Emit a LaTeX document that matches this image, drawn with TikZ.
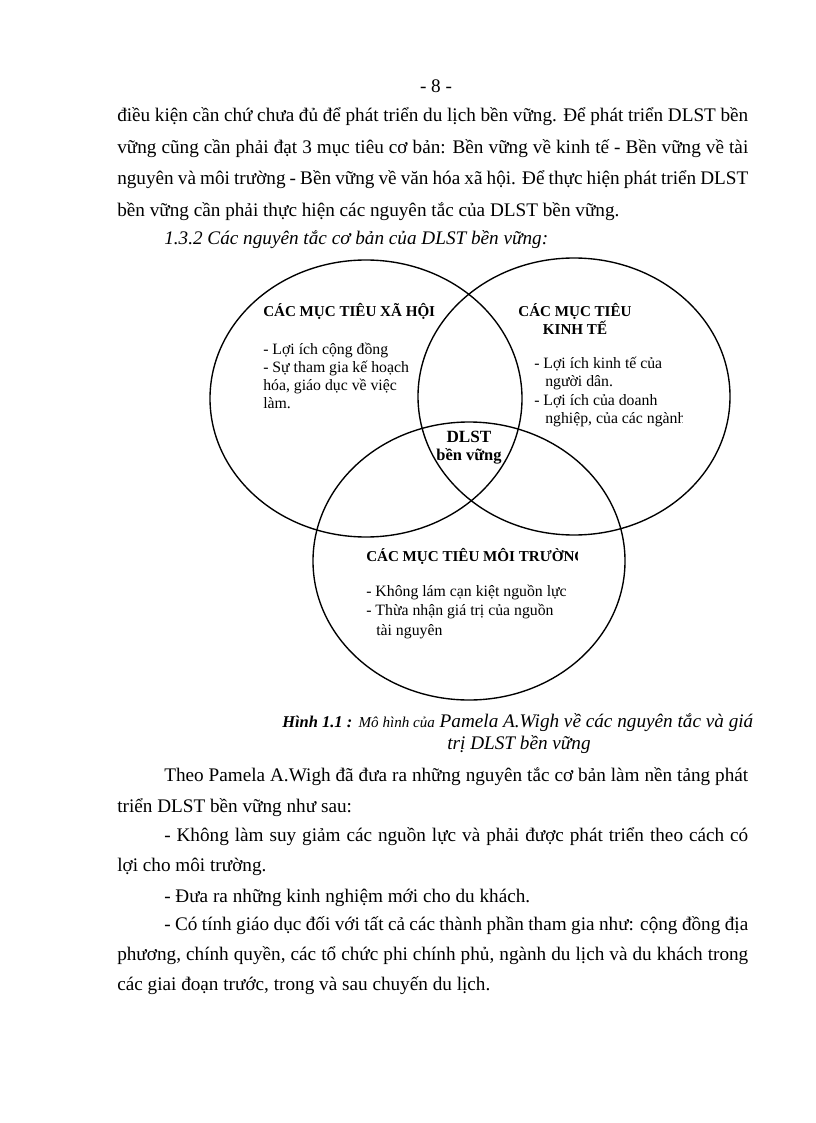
\documentclass[tikz,border=0pt]{standalone}
\usepackage{fontspec}
\setmainfont{Liberation Serif}
\usetikzlibrary{positioning}
\definecolor{Ink}{HTML}{000000}
\newcommand{\jline}[2]{\makebox[#1][s]{#2}}
\tikzset{
  venn/.style={draw=Ink,line width=1pt},
  bodyline/.style={anchor=base west,inner sep=0pt,font=\fontsize{14}{16}\selectfont},
  headcap/.style={anchor=base west,inner sep=0pt,font=\fontsize{11}{13}\selectfont\bfseries},
  circtext/.style={anchor=base west,inner sep=0pt,font=\fontsize{11.5}{13.4}\selectfont}
}
\begin{document}
\begin{tikzpicture}[x=0.729pt,y=-0.729pt]
  \useasboundingbox (0,0) rectangle (816,1123);
  % page number and opening paragraph
  \node[bodyline,anchor=base] (pnum) at (436,93) {- 8 -};
  \node[bodyline] (p1) at (117,122) {\jline{460pt}{điều kiện cần chứ chưa đủ để phát triển du lịch bền vững. Để phát triển DLST bền}};
  \node[bodyline] (p2) at (117,154) {\jline{460pt}{vững cũng cần phải đạt 3 mục tiêu cơ bản: Bền vững về kinh tế - Bền vững về tài}};
  \node[bodyline] (p3) at (117,185) {\jline{460pt}{nguyên và môi trường - Bền vững về văn hóa xã hội. Để thực hiện phát triển DLST}};
  \node[bodyline] (p4) at (117,217) {bền vững cần phải thực hiện các nguyên tắc của DLST bền vững.};
  \node[bodyline,font=\fontsize{14}{16}\selectfont\itshape] (sec) at (164,245) {1.3.2 Các nguyên tắc cơ bản của DLST bền vững:};
  % the three circles
  \draw[venn] (366,398.5) ellipse [x radius=156,y radius=138.5];
  \draw[venn] (574,396.5) ellipse [x radius=156,y radius=138.5];
  \draw[venn] (469,561) ellipse [x radius=156,y radius=139];
  % social goals
  \node[headcap] (sochead) at (263,316) {CÁC MỤC TIÊU XÃ HỘI};
  \node[circtext] (soc1) at (263,354) {- Lợi ích cộng đồng};
  \node[circtext] (soc2) at (263,372) {- Sự tham gia kế hoạch};
  \node[circtext] (soc3) at (263,390) {hóa, giáo dục về việc};
  \node[circtext] (soc4) at (263,408) {làm.};
  % economic goals
  \node[headcap,anchor=base] (ecohead) at (575,316) {CÁC MỤC TIÊU};
  \node[headcap,anchor=base] (ecohead2) at (575,334) {KINH TẾ};
  \node[circtext] (eco1) at (534,368) {- Lợi ích kinh tế của};
  \node[circtext] (eco2) at (545,386) {người dân.};
  \node[circtext] (eco3) at (534,405) {- Lợi ích của doanh};
  \begin{scope}
    \clip (530,400) rectangle (682,430);
    \node[circtext] (eco4) at (545,423) {nghiệp, của các ngành};
  \end{scope}
  % centre
  \node[headcap,anchor=base,font=\fontsize{12.5}{14}\selectfont\bfseries] (core1) at (469,442) {DLST};
  \node[headcap,anchor=base,font=\fontsize{12}{14}\selectfont\bfseries] (core2) at (469,460) {bền vững};
  % environmental goals
  \begin{scope}
    \clip (360,540) rectangle (577,570);
    \node[headcap] (envhead) at (366,561) {CÁC MỤC TIÊU MÔI TRƯỜNG};
  \end{scope}
  \node[circtext] (env1) at (366,596) {- Không lám cạn kiệt nguồn lực};
  \node[circtext] (env2) at (366,615) {- Thừa nhận giá trị của nguồn};
  \node[circtext] (env3) at (376,635) {tài nguyên};
  % caption
  \node[bodyline] (cap1) at (282,727) {{\fontsize{12}{14}\selectfont\bfseries\itshape Hình 1.1 :} {\fontsize{11}{13}\selectfont\itshape Mô hình của} {\itshape Pamela A.Wigh về các nguyên tắc và giá}};
  \node[bodyline,anchor=base,font=\fontsize{14}{16}\selectfont\itshape] (cap2) at (519,749) {trị DLST bền vững};
  % closing paragraphs
  \node[bodyline] (q1) at (164,781) {\jline{425.7pt}{Theo Pamela A.Wigh đã đưa ra những nguyên tắc cơ bản làm nền tảng phát}};
  \node[bodyline] (q2) at (117,812) {triển DLST bền vững như sau:};
  \node[bodyline] (q3) at (164,841) {\jline{425.7pt}{- Không làm suy giảm các nguồn lực và phải được phát triển theo cách có}};
  \node[bodyline] (q4) at (117,871) {lợi cho môi trường.};
  \node[bodyline] (q5) at (164,902) {- Đưa ra những kinh nghiệm mới cho du khách.};
  \node[bodyline] (q6) at (164,930) {\jline{425.7pt}{- Có tính giáo dục đối với tất cả các thành phần tham gia như: cộng đồng địa}};
  \node[bodyline] (q7) at (117,960) {\jline{460pt}{phương, chính quyền, các tổ chức phi chính phủ, ngành du lịch và du khách trong}};
  \node[bodyline] (q8) at (117,990) {các giai đoạn trước, trong và sau chuyến du lịch.};
\end{tikzpicture}
\end{document}
